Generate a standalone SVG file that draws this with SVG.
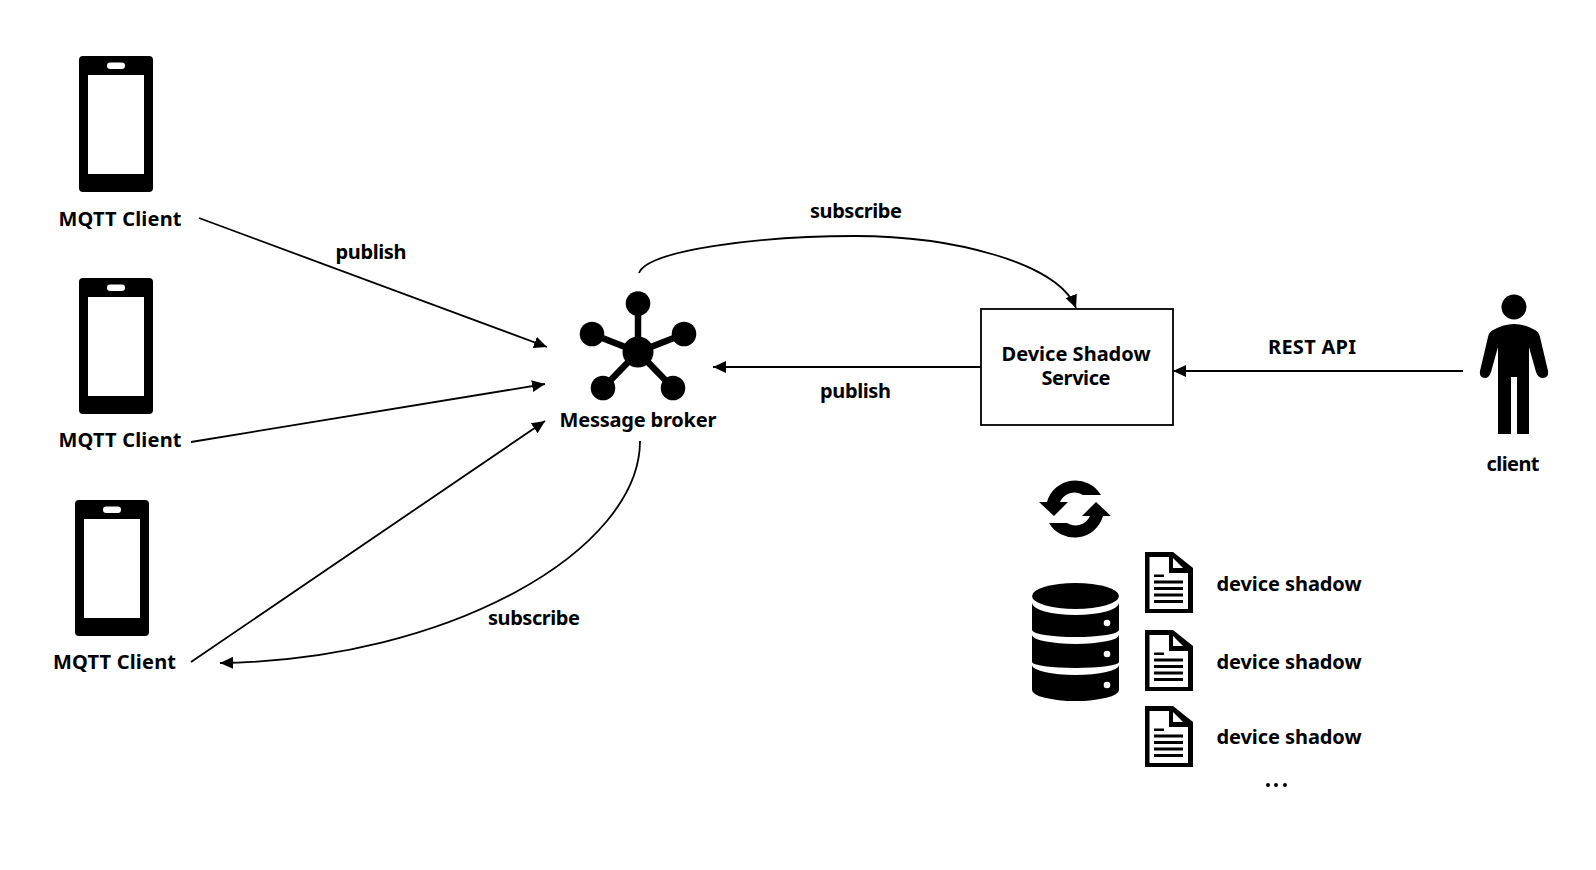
<svg xmlns="http://www.w3.org/2000/svg" width="1596" height="870" viewBox="0 0 1596 870">
<style>
text{font-family:"Noto Sans","Open Sans",sans-serif;font-weight:700;font-size:20px;fill:#000;text-anchor:middle}
.c{fill:none;stroke:#000;stroke-width:1.8}
</style>
<defs>
<marker id="a" markerUnits="userSpaceOnUse" markerWidth="14" markerHeight="12" refX="13" refY="6" orient="auto"><path d="M0 0L13 6L0 12Z"/></marker>
<g id="phone"><rect x="0" y="0" width="74" height="136" rx="4"/><rect x="9" y="19" width="56" height="99" fill="#fff"/><rect x="28" y="6.500" width="18" height="6.500" rx="3.200" fill="#fff"/></g>
<g id="doc"><path d="M0 0H28L48 16V61H0Z"/><path d="M4.500 5H24V21H43V57H4.500Z" fill="#fff"/><path d="M28 6L38 16H28Z" fill="#fff"/><path d="M9 22.500h10v2.500H9zM9 28.500h29v3H9zM9 35h29v3H9zM9 41.500h29v3H9zM9 48h29v3H9z"/></g>
</defs>
<g id="connectors">
<path class="c" marker-end="url(#a)" d="M199 218L547 347"/>
<path class="c" marker-end="url(#a)" d="M191 442L545 384"/>
<path class="c" marker-end="url(#a)" d="M191 662L545 421"/>
<path class="c" marker-end="url(#a)" d="M640 441C640 550 450 660 220 663"/>
<path class="c" marker-end="url(#a)" d="M639 273C648 250 760 236 855 236C950 236 1058 262 1076 308"/>
<path class="c" marker-end="url(#a)" d="M981 367H713"/>
<path class="c" marker-end="url(#a)" d="M1463 371H1173"/>
</g>
<g id="client1"><use href="#phone" x="79" y="56"/><text x="120" y="226" textLength="123">MQTT Client</text></g>
<g id="client2"><use href="#phone" x="79" y="278"/><text x="120" y="447" textLength="123">MQTT Client</text></g>
<g id="client3"><use href="#phone" x="75" y="500"/><text x="114.500" y="669" textLength="123">MQTT Client</text></g>
<g id="broker">
<path d="M638 303V352M592 334L638 352L684 334M603 388L638 352L673 388" fill="none" stroke="#000" stroke-width="6.500"/>
<circle cx="638" cy="352" r="15.500"/><circle cx="638" cy="303.500" r="12.300"/><circle cx="592" cy="334" r="12.300"/><circle cx="684" cy="334" r="12.300"/><circle cx="603" cy="388" r="12.300"/><circle cx="673" cy="388" r="12.300"/>
<text x="638" y="427" textLength="157">Message broker</text>
</g>
<g id="shadow-service"><rect x="981" y="309" width="192" height="116" fill="#fff" stroke="#000" stroke-width="1.800"/><text x="1076" y="361" textLength="149">Device Shadow</text><text x="1076" y="385" textLength="69">Service</text></g>
<g id="person">
<circle cx="1514" cy="307" r="12.500"/>
<path d="M1493 330Q1514 318 1535 330Q1539 332 1540 337L1548 371Q1549 378 1543 378Q1538 378 1536 372L1529 347V434H1517V377H1511V434H1498V347L1491 372Q1489 378 1485 378Q1479 378 1480 371L1488 337Q1489 332 1493 330Z"/>
<text x="1513" y="471" textLength="53">client</text>
</g>
<g id="sync">
<path d="M1039 502H1047A29.600 29.600 0 0 1 1101 495H1083A16 16 0 0 0 1060 502H1068L1054 516Z"/>
<path d="M1111 516H1103A29.600 29.600 0 0 1 1049 523H1067A16 16 0 0 0 1090 516H1082L1096 502Z"/>
</g>
<g id="database">
<ellipse cx="1075.500" cy="596" rx="43.500" ry="13"/>
<path d="M1032 603A43.500 12 0 0 0 1119 603V630A43.500 7 0 0 1 1032 630Z"/>
<path d="M1032 635A43.500 9 0 0 0 1119 635V662A43.500 6 0 0 1 1032 662Z"/>
<path d="M1032 665A43.500 10 0 0 0 1119 665V690A43.500 11 0 0 1 1032 690Z"/>
<circle cx="1107" cy="623" r="3.300" fill="#fff"/><circle cx="1107" cy="654" r="3.300" fill="#fff"/><circle cx="1107" cy="685" r="3.300" fill="#fff"/>
</g>
<g id="doc1"><use href="#doc" x="1145" y="552"/><text x="1289" y="591" textLength="145">device shadow</text></g>
<g id="doc2"><use href="#doc" x="1145" y="630"/><text x="1289" y="669" textLength="145">device shadow</text></g>
<g id="doc3"><use href="#doc" x="1145" y="706"/><text x="1289" y="744" textLength="145">device shadow</text></g>
<g id="labels">
<text x="371" y="259" textLength="71">publish</text>
<text x="856" y="218" textLength="92">subscribe</text>
<text x="855.500" y="398" textLength="71">publish</text>
<text x="1312" y="354" textLength="88">REST API</text>
<text x="534" y="625" textLength="92">subscribe</text>
<circle cx="1268" cy="785" r="2"/><circle cx="1276" cy="785" r="2"/><circle cx="1285" cy="785" r="2"/>
</g>
</svg>
